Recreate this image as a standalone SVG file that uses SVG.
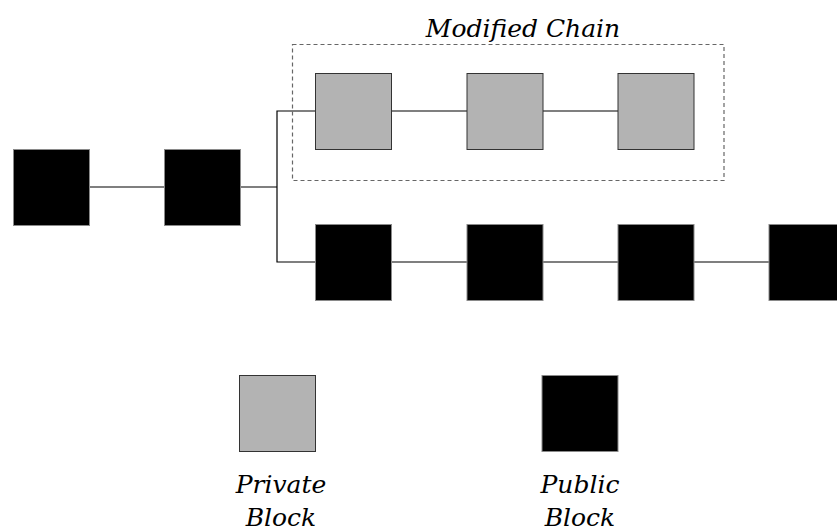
<svg xmlns="http://www.w3.org/2000/svg" width="837" height="532" viewBox="0 0 837 532">
  <style>
    .pub { fill: #000000; stroke: #8a8a8a; stroke-width: 1; }
    .priv { fill: #b3b3b3; stroke: #333333; stroke-width: 1; }
    .link { fill: none; stroke: #000000; stroke-width: 1.2; }
    .frame { fill: none; stroke: #666666; stroke-width: 1.2; stroke-dasharray: 4 3; }
    .lbl { font-family: "DejaVu Serif", "Liberation Serif", serif; font-style: italic; font-size: 25px; fill: #000000; text-anchor: middle; }
  </style>
  <rect width="837" height="532" fill="#ffffff"/>

  <!-- connectors -->
  <g id="connectors">
    <line class="link" x1="89" y1="187" x2="164" y2="187"/>
    <polyline class="link" points="240,187 277,187"/>
    <polyline class="link" points="315,111 277,111 277,262 315,262"/>
    <line class="link" x1="391" y1="111" x2="467" y2="111"/>
    <line class="link" x1="543" y1="111" x2="618" y2="111"/>
    <line class="link" x1="391" y1="262" x2="467" y2="262"/>
    <line class="link" x1="543" y1="262" x2="618" y2="262"/>
    <line class="link" x1="694" y1="262" x2="769" y2="262"/>
  </g>

  <!-- dashed frame around the modified chain -->
  <g id="modified-chain">
    <rect class="frame" x="292.5" y="44.5" width="431.5" height="136"/>
    <text class="lbl" x="523" y="37">Modified Chain</text>
  </g>

  <!-- shared prefix -->
  <g id="block-1"><rect class="pub" x="13.5" y="149.5" width="76" height="76"/></g>
  <g id="block-2"><rect class="pub" x="164.5" y="149.5" width="76" height="76"/></g>

  <!-- private branch -->
  <g id="priv-1"><rect class="priv" x="315.5" y="73.5" width="76" height="76"/></g>
  <g id="priv-2"><rect class="priv" x="467" y="73.5" width="76" height="76"/></g>
  <g id="priv-3"><rect class="priv" x="618" y="73.5" width="76" height="76"/></g>

  <!-- public branch -->
  <g id="pub-1"><rect class="pub" x="315.5" y="224.5" width="76" height="76"/></g>
  <g id="pub-2"><rect class="pub" x="467" y="224.5" width="76" height="76"/></g>
  <g id="pub-3"><rect class="pub" x="618" y="224.5" width="76" height="76"/></g>
  <g id="pub-4"><rect class="pub" x="769" y="224.5" width="76" height="76"/></g>

  <!-- legend -->
  <g id="legend-private">
    <rect class="priv" x="239.5" y="375.5" width="76" height="76"/>
    <text class="lbl" x="281" y="493">Private</text>
    <text class="lbl" x="281" y="526">Block</text>
  </g>
  <g id="legend-public">
    <rect class="pub" x="542" y="375.5" width="76" height="76"/>
    <text class="lbl" x="580" y="493">Public</text>
    <text class="lbl" x="580" y="526">Block</text>
  </g>
</svg>
